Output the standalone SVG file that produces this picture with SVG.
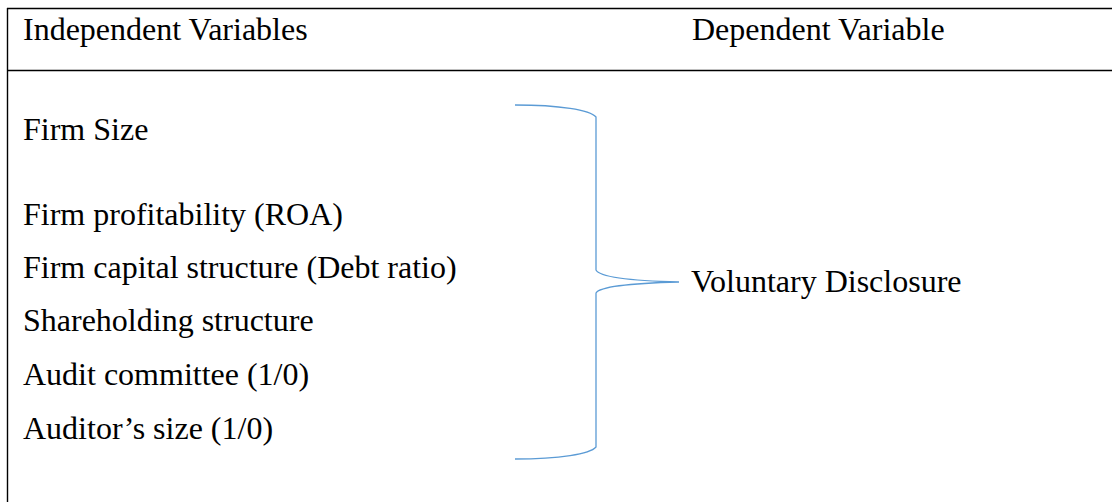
<svg xmlns="http://www.w3.org/2000/svg" width="1112" height="502" viewBox="0 0 1112 502">
<style>
.t{font-family:"Liberation Serif","Times New Roman",serif;font-size:32px;fill:#000}
.rule{stroke:#000;stroke-width:1.4;fill:none}
.brace{stroke:#5B9BD5;stroke-width:1.3;fill:none}
</style>
<rect width="1112" height="502" fill="#fff"/>
<g id="frame">
<line class="rule" x1="7" y1="8.5" x2="1112" y2="8.5"/>
<line class="rule" x1="7" y1="70.5" x2="1112" y2="70.5"/>
<line class="rule" x1="7.5" y1="8" x2="7.5" y2="502"/>
</g>
<g id="header">
<text class="t" x="23" y="40">Independent Variables</text>
<text class="t" x="692" y="40">Dependent Variable</text>
</g>
<g id="firm-size"><text class="t" x="23" y="140">Firm Size</text></g>
<g id="firm-profitability"><text class="t" x="23" y="225">Firm profitability (ROA)</text></g>
<g id="capital-structure"><text class="t" x="23" y="278">Firm capital structure (Debt ratio)</text></g>
<g id="shareholding"><text class="t" x="23" y="331">Shareholding structure</text></g>
<g id="audit-committee"><text class="t" x="23" y="385">Audit committee (1/0)</text></g>
<g id="auditor-size"><text class="t" x="23" y="439">Auditor’s size (1/0)</text></g>
<g id="voluntary-disclosure"><text class="t" x="691" y="292">Voluntary Disclosure</text></g>
<g id="connectors">
<path class="brace" d="M515,105 C560,105 590,110 596,117 L596,270 C600,278 640,281 679,282 C640,283 600,286 596,293 L596,447 C590,454 560,459 515,459"/>
</g>
</svg>
